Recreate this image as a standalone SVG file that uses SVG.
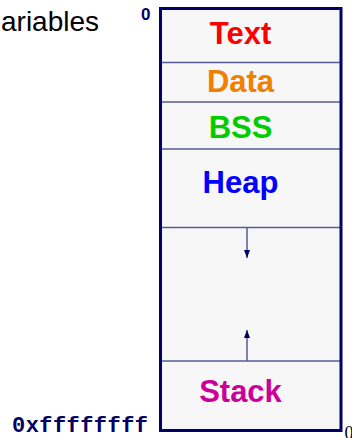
<svg xmlns="http://www.w3.org/2000/svg" width="352" height="438" viewBox="0 0 352 438">
  <defs>
    <style>
      .seg { font-family: "Liberation Sans", Arial, sans-serif; font-weight: bold; font-size: 31px; text-anchor: middle; }
      .div { stroke: #5a5a96; stroke-width: 1.5; fill: none; }
      .addr { fill: #000066; font-weight: bold; }
    </style>
    <marker id="head" viewBox="0 0 8 6" refX="8" refY="3" markerWidth="8" markerHeight="6" markerUnits="userSpaceOnUse" orient="auto">
      <path d="M0,0 L8,3 L0,6 Z" fill="#000066"/>
    </marker>
  </defs>

  <rect width="352" height="438" fill="#ffffff"/>

  <!-- caption fragment at the top left -->
  <text x="1" y="31" font-family="Liberation Sans, Arial, sans-serif" font-size="28" fill="#000000">ariables</text>

  <!-- memory image column -->
  <g id="memory">
    <rect x="160.5" y="8.5" width="180.5" height="422" fill="#f7f7f7" stroke="none"/>
    <line class="div" x1="161" y1="62.5" x2="340" y2="62.5"/>
    <line class="div" x1="161" y1="102" x2="340" y2="102"/>
    <line class="div" x1="161" y1="149" x2="340" y2="149"/>
    <line class="div" x1="161" y1="227.5" x2="340" y2="227.5"/>
    <line class="div" x1="161" y1="361" x2="340" y2="361"/>
  </g>

  <g id="text-seg"><text class="seg" x="240.5" y="44" fill="#ff0000">Text</text></g>
  <g id="data-seg"><text class="seg" x="240.5" y="91.5" fill="#f08000">Data</text></g>
  <g id="bss-seg"><text class="seg" x="240.5" y="137.5" fill="#00cc00">BSS</text></g>
  <g id="heap-seg"><text class="seg" x="240.5" y="193" fill="#0000ff">Heap</text></g>
  <g id="stack-seg"><text class="seg" x="240.5" y="402" fill="#cc0099">Stack</text></g>

  <!-- growth directions of heap and stack -->
  <g id="connectors">
    <line class="div" x1="247" y1="228" x2="247" y2="258" marker-end="url(#head)"/>
    <line class="div" x1="247" y1="361" x2="247" y2="330" marker-end="url(#head)"/>
  </g>

  <!-- outer frame on top of the dividers -->
  <rect x="160.5" y="8.5" width="180.5" height="422" fill="none" stroke="#000066" stroke-width="3"/>

  <!-- address labels -->
  <text class="addr" x="141" y="19.5" style="font-family: 'Liberation Sans', Arial, sans-serif; font-size: 17px;">0</text>
  <text class="addr" x="12" y="432" style="font-family: 'Liberation Mono', 'Courier New', monospace; font-size: 22px;" textLength="136" lengthAdjust="spacing">0xffffffff</text>
  <text x="344.5" y="439" font-family="Liberation Serif, Times New Roman, serif" font-size="18" fill="#000000">0</text>
</svg>
